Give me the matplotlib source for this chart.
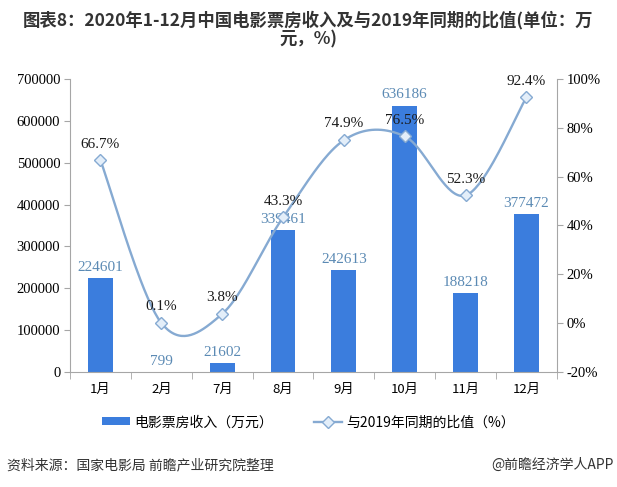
import matplotlib
matplotlib.use("Agg")
import matplotlib.pyplot as plt
import numpy as np
from matplotlib.lines import Line2D
from matplotlib.patches import Patch

plt.rcParams['font.family'] = ['Noto Sans CJK SC', 'DejaVu Sans']

months = ["1月", "2月", "7月", "8月", "9月", "10月", "11月", "12月"]
revenue = [224601, 799, 21602, 339461, 242613, 636186, 188218, 377472]
ratio = [66.7, 0.1, 3.8, 43.3, 74.9, 76.5, 52.3, 92.4]
left_ticks = [0, 100000, 200000, 300000, 400000, 500000, 600000, 700000]
right_ticks = [-20, 0, 20, 40, 60, 80, 100]

bar_color = "#3B7DDD"
line_color = "#86AAD2"
bar_label_color = "#5B8AB4"
axis_color = "#A6A6A6"
num_font = "Liberation Serif"

fig = plt.figure(figsize=(6.17, 4.87), dpi=100)
ax = fig.add_axes([0.1135, 0.236, 0.789, 0.602])
x = np.arange(len(months))

ax.bar(x, revenue, width=0.41, color=bar_color, zorder=2)
ax.set_xlim(-0.5, len(months) - 0.5)
ax.set_ylim(0, 700000)
ax.set_yticks(left_ticks)
ax.set_yticklabels([str(v) for v in left_ticks], fontfamily=num_font, fontsize=10.5)
ax.set_xticks(x)
ax.set_xticklabels(months, fontsize=9.5)
ax.set_xticks(np.arange(-0.5, len(months), 1), minor=True)
ax.tick_params(axis='x', which='major', length=0, pad=8)
ax.tick_params(axis='x', which='minor', length=5, color=axis_color)
ax.tick_params(axis='y', length=4, color=axis_color, pad=3)
for s in ['top', 'right']:
    ax.spines[s].set_visible(False)
for s in ['left', 'bottom']:
    ax.spines[s].set_color(axis_color)

for xi, v in zip(x, revenue):
    ax.annotate(str(v), (xi, v), xytext=(0, 3), textcoords='offset points',
                ha='center', va='bottom', color=bar_label_color,
                fontfamily=num_font, fontsize=11)

ax2 = ax.twinx()
ax2.set_ylim(-20, 100)
ax2.set_yticks(right_ticks)
ax2.set_yticklabels([f"{v}%" for v in right_ticks], fontfamily=num_font, fontsize=10.5)
ax2.tick_params(axis='y', length=4, color=axis_color, pad=3)
for s in ['top', 'left', 'bottom']:
    ax2.spines[s].set_visible(False)
ax2.spines['right'].set_color(axis_color)

# smooth rendering (Catmull-Rom) through the data points
px = np.array(x, dtype=float)
py = np.array(ratio, dtype=float)
P = np.column_stack([px, py])
Pext = np.vstack([P[0], P, P[-1]])
curve = []
t = np.linspace(0, 1, 40)
for i in range(1, len(Pext) - 2):
    p0, p1, p2, p3 = Pext[i - 1], Pext[i], Pext[i + 1], Pext[i + 2]
    c1 = p1 + (p2 - p0) / 6
    c2 = p2 - (p3 - p1) / 6
    seg = ((1 - t)[:, None] ** 3 * p1 + 3 * ((1 - t) ** 2 * t)[:, None] * c1
           + 3 * ((1 - t) * t ** 2)[:, None] * c2 + (t ** 3)[:, None] * p2)
    curve.append(seg)
curve = np.vstack(curve)
ax2.plot(curve[:, 0], curve[:, 1], color=line_color, lw=1.7, zorder=3)
ax2.plot(px, py, ls='none', marker='D', markersize=6.5, markerfacecolor='#E3EEF9',
         markeredgecolor=line_color, markeredgewidth=1, zorder=4)
for xi, v in zip(x, ratio):
    ax2.annotate(f"{v}%", (xi, v), xytext=(0, 7), textcoords='offset points',
                 ha='center', va='bottom', color='#1A1A1A',
                 fontfamily=num_font, fontsize=11)

fig.text(0.5, 0.978, "图表8：2020年1-12月中国电影票房收入及与2019年同期的比值(单位：万\n元，%)",
         ha='center', va='top', fontsize=12.5, fontweight='bold', color='#333333',
         linespacing=1.05)

handles = [Patch(facecolor=bar_color, edgecolor='none'),
           Line2D([0], [0], color=line_color, lw=1.7, marker='D', markersize=6,
                  markerfacecolor='#E3EEF9', markeredgecolor=line_color)]
fig.legend(handles, ["电影票房收入（万元）", "与2019年同期的比值（%）"],
           loc='center', bbox_to_anchor=(0.5, 0.133), ncol=2, frameon=False,
           fontsize=10, handlelength=2.0, handleheight=0.55, columnspacing=3.0,
           handletextpad=0.3)

fig.text(0.012, 0.045, "资料来源：国家电影局 前瞻产业研究院整理", ha='left', va='center',
         fontsize=10, color='#333333')
fig.text(0.995, 0.045, "@前瞻经济学人APP", ha='right', va='center',
         fontsize=10, color='#333333')

fig.savefig("out.png", dpi=100)
